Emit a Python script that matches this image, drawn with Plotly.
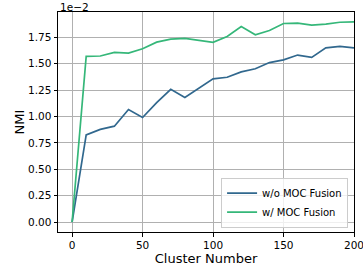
import plotly.graph_objects as go

clusters = [0, 10, 20, 30, 40, 50, 60, 70, 80, 90, 100, 110, 120, 130, 140, 150, 160, 170, 180, 190, 200]
# NMI values in units of 1e-2
wo_moc = [0.0, 0.826, 0.878, 0.908, 1.066, 0.990, 1.131, 1.258, 1.181, 1.268, 1.356, 1.372, 1.423, 1.452, 1.511, 1.537, 1.582, 1.560, 1.650, 1.665, 1.650]
w_moc = [0.0, 1.569, 1.573, 1.608, 1.600, 1.642, 1.704, 1.733, 1.740, 1.724, 1.702, 1.758, 1.852, 1.774, 1.815, 1.881, 1.884, 1.866, 1.875, 1.893, 1.896]
y_ticks = [0.0, 0.25, 0.5, 0.75, 1.0, 1.25, 1.5, 1.75]
x_ticks = [0, 50, 100, 150, 200]

fig = go.Figure()
fig.add_trace(go.Scatter(x=clusters, y=wo_moc, mode="lines", name="w/o MOC Fusion",
                         line=dict(color="#31688e", width=1.7)))
fig.add_trace(go.Scatter(x=clusters, y=w_moc, mode="lines", name="w/ MOC Fusion",
                         line=dict(color="#35b779", width=1.7)))

axis_common = dict(showline=True, linecolor="black", linewidth=1, mirror=True,
                   ticks="outside", ticklen=3.5, tickcolor="black",
                   showgrid=True, gridcolor="#b0b0b0", gridwidth=0.8, zeroline=False,
                   automargin=False, ticklabeloverflow="allow",
                   tickfont=dict(family="DejaVu Sans", size=10.5, color="black"))

fig.update_layout(
    width=363, height=269,
    margin=dict(l=58, r=9, t=12, b=37),
    paper_bgcolor="white", plot_bgcolor="white",
    font=dict(family="DejaVu Sans", color="black"),
    xaxis=dict(range=[-10, 200], tickvals=x_ticks,
               title=dict(text="Cluster Number", font=dict(size=13), standoff=0),
               **axis_common),
    yaxis=dict(range=[-0.0945, 1.99], tickvals=y_ticks, tickformat=".2f",
               title=dict(text="NMI", font=dict(size=13), standoff=0),
               **axis_common),
    legend=dict(x=0.98, y=0.02, xanchor="right", yanchor="bottom",
                bgcolor="rgba(255,255,255,0.8)", bordercolor="#cccccc", borderwidth=1,
                font=dict(size=10), tracegroupgap=0, itemwidth=30),
    showlegend=True,
    annotations=[dict(text="1e\u22122", xref="paper", yref="paper", x=0, y=1,
                      xanchor="left", yanchor="bottom", showarrow=False,
                      font=dict(size=10.5, family="DejaVu Sans"), yshift=-3)],
)

fig.write_html("out.html", config={"displayModeBar": False},
               post_script="document.body.style.margin='0';document.body.style.overflow='hidden';")
